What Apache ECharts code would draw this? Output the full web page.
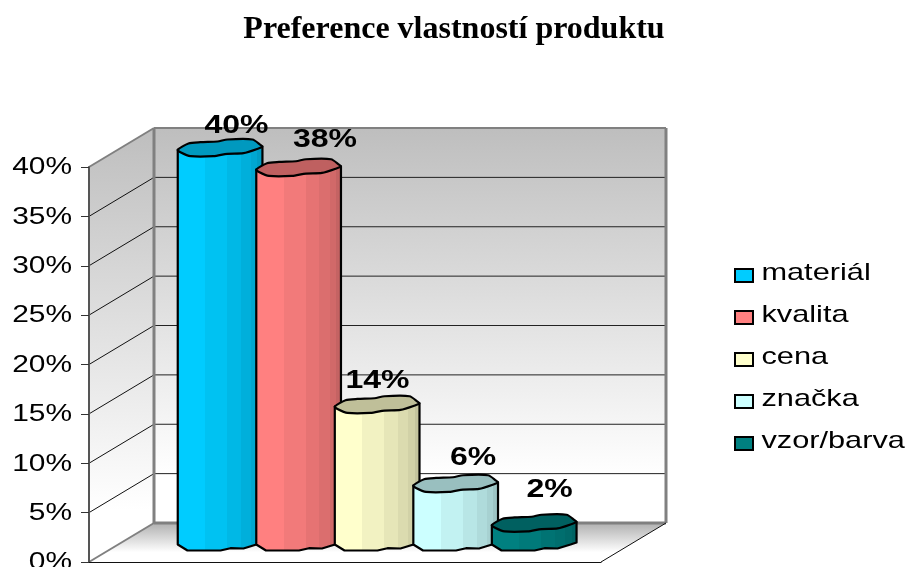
<!DOCTYPE html>
<html><head><meta charset="utf-8">
<style>html,body{margin:0;padding:0;background:#fff}#c{width:908px;height:567px}</style>
<script src="https://cdn.jsdelivr.net/npm/echarts@6/dist/echarts.min.js"></script>
</head><body><div id="c"></div>
<script>
const titleText = 'Preference vlastností produktu';
const categories = ['materiál', 'kvalita', 'cena', 'značka', 'vzor/barva'];
const values = [40, 38, 14, 6, 2];
const colors = ['#00CCFF', '#FF8080', '#FFFFCC', '#CCFFFF', '#008080'];
const yTicks = [0, 5, 10, 15, 20, 25, 30, 35, 40];

// styling / perspective constants
const depth = [65, -39];
const labelNudge = [[16, -21], [26, -27], [0, -23], [17, -25], [15, -33]];
const xPad = 1.26;
const topLoop = [[-42.7,2.3],[-32,-4],[-20,-5.3],[-3,-6],[7,-8],[32,-8],[40,-2.7],[42,-1],[38,1],[23,5.7],[7,6.3],[-7,8.7],[-30,8.7],[-40,4.7]];
const bottomEdge = [[-42.7,2],[-33,8],[0,8],[10,5.7],[23,6],[36,2],[42,0]];
const bands = [[0,1],[.33,.95],[.58,.9],[.74,.86],[.86,.82],[.93,.77]];

function scale(hex, k) {
  const n = parseInt(hex.slice(1), 16);
  const c = s => Math.round(((n >> s) & 255) * k);
  return `rgb(${c(16)},${c(8)},${c(0)})`;
}
function bandFill(hex) {
  const stops = [];
  bands.forEach((b, i) => {
    const end = i + 1 < bands.length ? bands[i + 1][0] : 1;
    stops.push({ offset: b[0], color: scale(hex, b[1]) }, { offset: end, color: scale(hex, b[1]) });
  });
  return new echarts.graphic.LinearGradient(0, 0, 1, 0, stops);
}
const gray = '#808080';
function wallItem(params, api) {
  const xMin = -xPad, xMax = values.length - 1 + xPad, yMax = yTicks[yTicks.length - 1];
  const fl = api.coord([xMin, 0]), fr = api.coord([xMax, 0]), tl = api.coord([xMin, yMax]);
  const back = p => [p[0] + depth[0], p[1] + depth[1]];
  const bl = back(fl), br = back(fr), btl = back(tl), btr = [br[0], btl[1]];
  const wallGrad = () => new echarts.graphic.LinearGradient(0, 0, 0, 1, [{offset:0,color:'#bebebe'},{offset:.88,color:'#ffffff'},{offset:1,color:'#ffffff'}]);
  const floorGrad = new echarts.graphic.LinearGradient(0, 0, 0, 1, [{offset:0,color:'#b0b0b0'},{offset:.75,color:'#ffffff'},{offset:1,color:'#ffffff'}]);
  const kids = [
    {type:'polygon',shape:{points:[btl,btr,br,bl]},style:{fill:wallGrad()}},
    {type:'polygon',shape:{points:[tl,btl,bl,fl]},style:{fill:wallGrad()}},
    {type:'polygon',shape:{points:[fl,bl,br,fr]},style:{fill:floorGrad}}
  ];
  yTicks.slice(1, -1).forEach(t => {
    const f = api.coord([xMin, t]), b = back(f);
    kids.push({type:'line',shape:{x1:f[0],y1:f[1],x2:b[0],y2:b[1]},style:{stroke:'#111',lineWidth:1}});
    kids.push({type:'line',shape:{x1:b[0],y1:b[1],x2:br[0],y2:b[1]},style:{stroke:'#222',lineWidth:1}});
  });
  const l = (a, b, c, w) => kids.push({type:'line',shape:{x1:a[0],y1:a[1],x2:b[0],y2:b[1]},style:{stroke:c,lineWidth:w}});
  l(btl, btr, gray, 2); l(btl, bl, gray, 3); l(btr, br, gray, 3); l(bl, br, gray, 3);
  l(tl, btl, gray, 2); l(fl, bl, gray, 2);
  l(fr, br, '#111', 1);
  return {type:'group',children:kids};
}
function cylinderItem(idx) {
  return function (params, api) {
    const i = api.value(0), v = api.value(1);
    const base = api.coord([i, 0]), top = api.coord([i, v]);
    const cx = base[0] + depth[0] / 2, by = base[1] + depth[1] / 2, ty = top[1] + depth[1] / 2;
    const topPts = topLoop.map(p => [cx + p[0], ty + p[1]]);
    const bodyPts = [[cx + topLoop[0][0], ty + topLoop[0][1]]]
      .concat(bottomEdge.map(p => [cx + p[0], by + p[1]]))
      .concat([[cx + 42, ty - 1]]);
    const hex = colors[idx];
    const style = {stroke:'#000',lineWidth:2.2,lineJoin:'round'};
    return {type:'group',children:[
      {type:'polygon',shape:{points:bodyPts},style:Object.assign({fill:bandFill(hex)},style)},
      {type:'polygon',shape:{points:topPts,smooth:.25},style:Object.assign({fill:scale(hex,.75)},style)},
      {type:'text',x:cx + labelNudge[idx][0],y:ty + labelNudge[idx][1],scaleX:1.28,z2:10,
        style:{text:v + '%',fill:'#000',font:'bold 25px "Liberation Sans"',align:'center',verticalAlign:'middle'}}
    ]};
  };
}
const series = [{
  type:'custom',name:'walls',z:0,silent:true,clip:false,renderItem:wallItem,data:[[0,0]],encode:{x:0,y:1}
}].concat(categories.map((name, k) => ({
  type:'custom',name,z:2,silent:true,clip:false,renderItem:cylinderItem(k),
  itemStyle:{color:colors[k],borderColor:'#000',borderWidth:2},
  data:[[k, values[k]]],encode:{x:0,y:1}
})));
const chart = echarts.init(document.getElementById('c'), null, {renderer:'canvas'});
chart.setOption({
  animation:false,
  backgroundColor:'#fff',
  title:{text:titleText,left:'center',top:9,textStyle:{fontFamily:'"Liberation Serif"',fontWeight:'bold',fontSize:32,color:'#000'}},
  grid:{left:89,width:512,top:167,height:395,containLabel:false,outerBoundsMode:'none'},
  xAxis:{type:'value',min:-xPad,max:values.length-1+xPad,z:1,splitLine:{show:false},axisTick:{show:false},axisLabel:{show:false},
    axisLine:{show:true,onZero:false,lineStyle:{color:'#111',width:1}}},
  yAxis:{type:'value',min:0,max:40,interval:5,z:1,splitLine:{show:false},
    axisLine:{show:true,onZero:false,lineStyle:{color:'#555',width:2}},
    axisTick:{show:true,length:8,lineStyle:{color:'#333',width:1}},
    axisLabel:{margin:17,formatter:'{value}%',color:'#000',fontFamily:'"Liberation Sans"',fontSize:23}},
  legend:{orient:'vertical',left:729,top:257,itemWidth:18,itemHeight:13,itemGap:15,selectedMode:false,icon:'rect',
    data:categories.map((name,k)=>({name,icon:'rect',itemStyle:{color:colors[k],borderColor:'#000',borderWidth:2}})),
    textStyle:{color:'#000',fontFamily:'"Liberation Sans"',fontSize:24,lineHeight:27}},
  series
});
// The reference's text is horizontally stretched: widen the library-drawn labels.
const tickText = new Set(yTicks.map(t => t + '%'));
const legendText = new Set(categories);
chart.getZr().storage.traverse(el => {
  if (el.type !== 'text' || !el.style) return;
  const s = el.style.text;
  if (tickText.has(s) && el.style.align === 'right') { el.scaleX = 1.3; el.y += 1; el.markRedraw(); }
  else if (legendText.has(s)) { el.scaleX = 1.28; el.x -= 3; el.y -= 2; el.markRedraw(); }
});
chart.getZr().refreshImmediately();
</script></body></html>
